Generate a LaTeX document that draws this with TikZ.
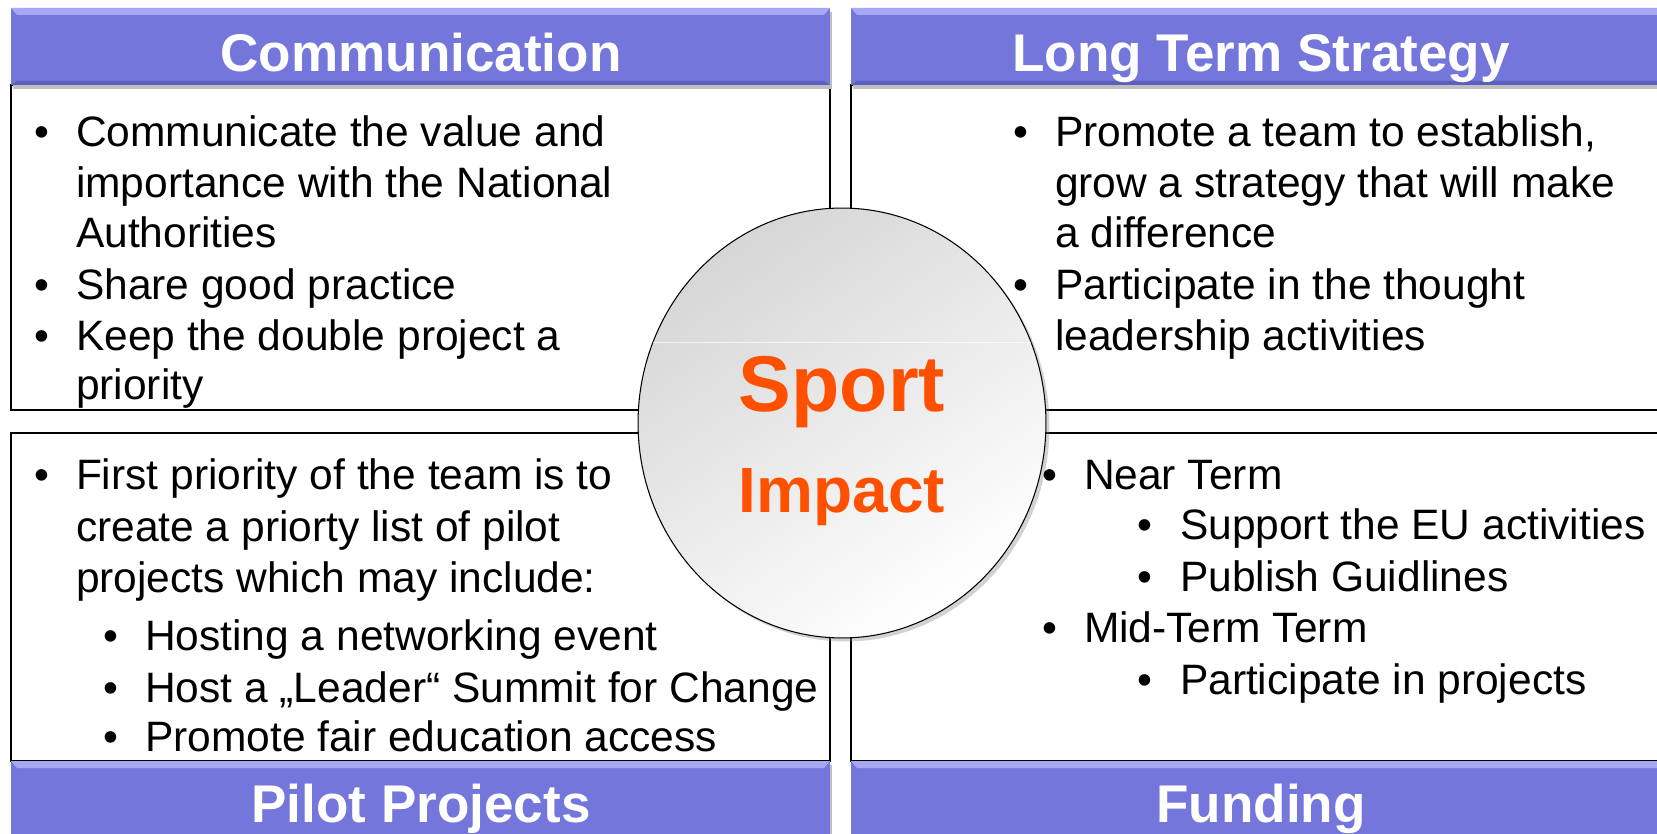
\documentclass[tikz,border=0pt]{standalone}
\usepackage{fontspec}
\setmainfont{Liberation Sans}
\usetikzlibrary{positioning, shapes.geometric, shadows}
\definecolor{hdrblue}{HTML}{7476DB}
\definecolor{hdrlight}{HTML}{A6A8F4}
\definecolor{hdrdark}{HTML}{5C5EBE}
\definecolor{sportorange}{HTML}{FF5000}

\begin{document}
\begin{tikzpicture}[x=0.02cm, y=-0.02cm,
  every node/.style={inner sep=0pt, outer sep=0pt},
  quad/.style={draw=black, line width=0.8pt, fill=white},
  hdrtext/.style={font=\fontsize{30.2}{36}\selectfont\bfseries, text=white, anchor=base},
  txt/.style={font=\fontsize{24.2}{29}\selectfont, anchor=base west},
  dot/.style={font=\fontsize{24.2}{29}\selectfont, anchor=base},
  hub/.style={ellipse, draw=black, line width=0.6pt, minimum width=8.16cm, minimum height=8.6cm,
    top color=black!16, middle color=black!6, bottom color=white, shading angle=35,
    drop shadow={shadow xshift=2pt, shadow yshift=-2pt, opacity=0.35}},
  hubtext/.style={text=sportorange, anchor=base},
]
\useasboundingbox (0,0) rectangle (1657,834);
\clip (0,0) rectangle (1657,834);
\fill[white] (0,0) rectangle (1657,834);

% Quadrant boxes
\draw[quad] (11,85) rectangle (830,410);
\draw[quad] (851,85) rectangle (1670,410);
\draw[quad] (11,433) rectangle (830,761);
\draw[quad] (851,433) rectangle (1670,761);

% Header bars
\foreach \bx/\by in {11/8, 851/8, 11/761, 851/761} {
  \fill[black!25] ({\bx+2},{\by+4}) rectangle ({\bx+821},{\by+81});
  \fill[hdrblue] (\bx,\by) rectangle ({\bx+819},{\by+77});
  \fill[hdrlight] (\bx,\by) -- ({\bx+819},\by) -- ({\bx+813},{\by+7}) -- ({\bx+6},{\by+7}) -- cycle;
  \fill[hdrdark] (\bx,{\by+77}) -- ({\bx+6},{\by+73}) -- ({\bx+813},{\by+73}) -- ({\bx+819},{\by+77}) -- cycle;
}
\node[hdrtext] (comm) at (421,72) {Communication};
\node[hdrtext] (strategy) at (1261,72) {Long Term Strategy};
\node[hdrtext] (pilot) at (421,822) {Pilot Projects};
\node[hdrtext] (funding) at (1261,822) {Funding};

% Centre disc
\node[hub] (hub) at (842,423) {};
\draw[white, line width=0.5pt, opacity=0.7] (653,342) -- (1031,342);
\node[hubtext, font=\fontsize{45}{54}\selectfont\bfseries] (sport) at (842,412) {Sport};
\node[hubtext, font=\fontsize{36.4}{44}\selectfont\bfseries] (impact) at (842,512) {Impact};

% Communication
\node[dot] (comm1d) at (42,147) {•};
\node[txt] (comm1) at (76,147) {Communicate the value and};
\node[txt] (comm2) at (76,198) {importance with the National};
\node[txt] (comm3) at (76,248) {Authorities};
\node[dot] (comm4d) at (42,300) {•};
\node[txt] (comm4) at (76,300) {Share good practice};
\node[dot] (comm5d) at (42,351) {•};
\node[txt] (comm5) at (76,351) {Keep the double project a};
\node[txt] (comm6) at (76,400) {priority};

% Long Term Strategy
\node[dot] (strat1d) at (1021,147) {•};
\node[txt] (strat1) at (1055,147) {Promote a team to establish,};
\node[txt] (strat2) at (1055,198) {grow a strategy that will make};
\node[txt] (strat3) at (1055,248) {a difference};
\node[dot] (strat4d) at (1021,300) {•};
\node[txt] (strat4) at (1055,300) {Participate in the thought};
\node[txt] (strat5) at (1055,351) {leadership activities};

% Pilot Projects
\node[dot] (pilot1d) at (42,489) {•};
\node[txt] (pilot1) at (76,489) {First priority of the team is to};
\node[txt] (pilot2) at (76,541) {create a priorty list of pilot};
\node[txt] (pilot3) at (76,592) {projects which may include:};
\node[dot] (pilot4d) at (111,650) {•};
\node[txt] (pilot4) at (145,650) {Hosting a networking event};
\node[dot] (pilot5d) at (111,702) {•};
\node[txt] (pilot5) at (145,702) {Host a „Leader“ Summit for Change};
\node[dot] (pilot6d) at (111,751) {•};
\node[txt] (pilot6) at (145,751) {Promote fair education access};

% Funding
\node[dot] (fund1d) at (1050,489) {•};
\node[txt] (fund1) at (1084,489) {Near Term};
\node[dot] (fund2d) at (1145,540) {•};
\node[txt] (fund2) at (1180,540) {Support the EU activities};
\node[dot] (fund3d) at (1145,591) {•};
\node[txt] (fund3) at (1180,591) {Publish Guidlines};
\node[dot] (fund4d) at (1050,642) {•};
\node[txt] (fund4) at (1084,642) {Mid-Term Term};
\node[dot] (fund5d) at (1145,694) {•};
\node[txt] (fund5) at (1180,694) {Participate in projects};

\end{tikzpicture}
\end{document}
